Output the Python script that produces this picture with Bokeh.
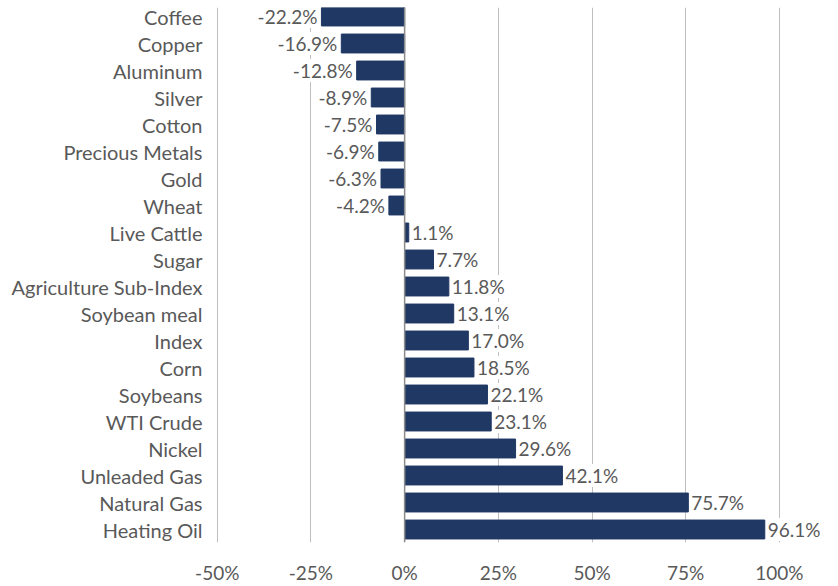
from bokeh.plotting import figure
from bokeh.models import ColumnDataSource, LabelSet, Span, Range1d, FixedTicker
from bokeh.core.properties import value
from bokeh.embed import file_html
from bokeh.resources import INLINE

categories = ["Coffee", "Copper", "Aluminum", "Silver", "Cotton", "Precious Metals", "Gold", "Wheat",
              "Live Cattle", "Sugar", "Agriculture Sub-Index", "Soybean meal", "Index", "Corn",
              "Soybeans", "WTI Crude", "Nickel", "Unleaded Gas", "Natural Gas", "Heating Oil"]
values = [-22.2, -16.9, -12.8, -8.9, -7.5, -6.9, -6.3, -4.2,
          1.1, 7.7, 11.8, 13.1, 17.0, 18.5, 22.1, 23.1, 29.6, 42.1, 75.7, 96.1]
x_ticks = [-50, -25, 0, 25, 50, 75, 100]
x_tick_labels = ["-50%", "-25%", "0%", "25%", "50%", "75%", "100%"]

FONT = "Lato"
FS = "19px"
TXT = "#595959"
n = len(categories)
idx = list(range(n))

src = ColumnDataSource(dict(
    y=idx,
    v=values,
    lbl=[f"{v:.1f}%" for v in values],
    align=["right" if v < 0 else "left" for v in values],
    off=[-4 if v < 0 else 3 for v in values],
))

p = figure(frame_width=618, frame_height=535, output_backend="svg", toolbar_location=None,
           x_range=Range1d(-51, 113.9), y_range=Range1d(n - 1 + 13 / 27, -9 / 27),
           min_border_left=213, min_border_right=0, min_border_top=7, min_border_bottom=0)
p.outline_line_color = None
p.background_fill_color = "white"

p.hbar(y="y", left=0, right="v", height=0.7, source=src, color="#203864")

labels = LabelSet(x="v", y="y", text="lbl", source=src, x_offset="off", text_align="align",
                  text_baseline="middle", text_font=value(FONT), text_font_size=value(FS),
                  text_color=TXT, background_fill_color="white")
p.add_layout(labels)

p.add_layout(Span(location=0, dimension="height", line_color="#8c8c8c", line_width=1.5))

p.xaxis.ticker = FixedTicker(ticks=x_ticks)
p.xaxis.major_label_overrides = {t: l for t, l in zip(x_ticks, x_tick_labels)}
p.xaxis.axis_line_color = None
p.xaxis.major_tick_line_color = None
p.xaxis.minor_tick_line_color = None
p.xaxis.major_label_standoff = 12
p.xaxis.major_label_text_font = FONT
p.xaxis.major_label_text_font_size = FS
p.xaxis.major_label_text_color = TXT

p.yaxis.ticker = FixedTicker(ticks=idx)
p.yaxis.major_label_overrides = {i: c for i, c in zip(idx, categories)}
p.yaxis.axis_line_color = None
p.yaxis.major_tick_line_color = None
p.yaxis.minor_tick_line_color = None
p.yaxis.major_label_standoff = 5
p.yaxis.major_label_text_font = FONT
p.yaxis.major_label_text_font_size = "20px"
p.yaxis.major_label_text_color = TXT

p.xgrid.grid_line_color = "#bfbfbf"
p.xgrid.grid_line_width = 1
p.ygrid.grid_line_color = None

open("out.html", "w").write(file_html(p, INLINE))
